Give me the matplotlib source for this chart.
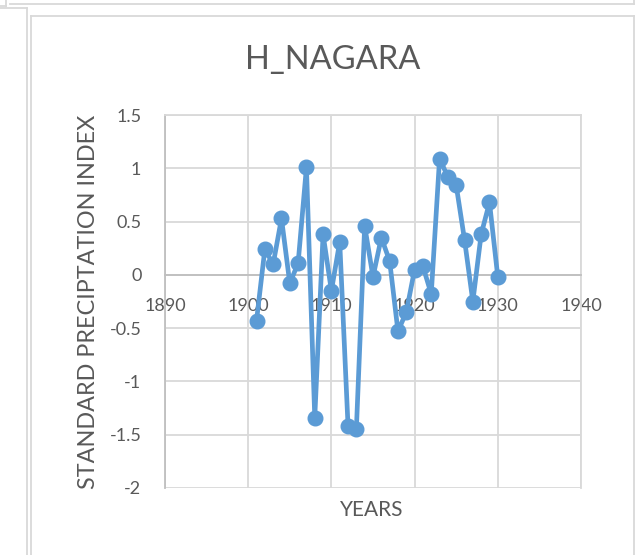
import matplotlib
matplotlib.use("Agg")
from matplotlib import pyplot as plt
from matplotlib.lines import Line2D

plt.rcParams['font.family'] = ['Lato', 'DejaVu Sans']

# values
years = list(range(1901, 1931))
spi = [-0.43, 0.24, 0.10, 0.53, -0.08, 0.11, 1.01, -1.34, 0.38, -0.15,
       0.31, -1.42, -1.45, 0.46, -0.02, 0.35, 0.13, -0.53, -0.35, 0.05,
       0.08, -0.18, 1.09, 0.92, 0.84, 0.33, -0.25, 0.38, 0.68, -0.02]

x_ticks = [1890, 1900, 1910, 1920, 1930, 1940]
y_ticks = [-2, -1.5, -1, -0.5, 0, 0.5, 1, 1.5]
y_tick_labels = ['-2', '-1.5', '-1', '-0.5', '0', '0.5', '1', '1.5']

TEXT = '#595959'
GRID = '#D9D9D9'
BLUE = '#5B9BD5'

W, H = 636, 555
fig = plt.figure(figsize=(W / 100, H / 100), dpi=100)

# frame lines from the spreadsheet screenshot (pixel coords -> figure fraction)
def hline(y, x0, x1):
    fig.add_artist(Line2D([x0 / W, x1 / W], [1 - y / H, 1 - y / H], color=GRID, lw=1.3))

def vline(x, y0, y1):
    fig.add_artist(Line2D([x / W, x / W], [1 - y0 / H, 1 - y1 / H], color=GRID, lw=1.3))

vline(6, 0, 6)
hline(6, 0, 6)
hline(4, 10, 634)
vline(634, 0, 4)
hline(8, 0, 27)
vline(27, 8, H)
hline(16, 31, 634)
vline(31, 16, H)
vline(634, 16, H)

left, right, top, bottom = 165, 581, 115, 488
ax = fig.add_axes([left / W, 1 - bottom / H, (right - left) / W, (bottom - top) / H])

ax.plot(years, spi, color=BLUE, lw=3.4, marker='o', markersize=10.5, zorder=3)

ax.set_xlim(1890, 1940)
ax.set_ylim(-2, 1.5)
ax.set_xticks(x_ticks)
ax.set_yticks(y_ticks)
ax.set_yticklabels(y_tick_labels)
ax.grid(True, color=GRID, lw=1.3)
ax.set_axisbelow(True)

for s in ['top', 'right', 'left']:
    ax.spines[s].set_color(GRID)
    ax.spines[s].set_linewidth(1.3)
ax.spines['left'].set_color('#BFBFBF')
ax.spines['bottom'].set_position(('data', 0))
ax.spines['bottom'].set_color('#BFBFBF')
ax.spines['bottom'].set_linewidth(1.3)

ax.tick_params(axis='both', length=0, labelsize=13, labelcolor=TEXT)
ax.tick_params(axis='x', pad=17)
ax.tick_params(axis='y', pad=17)

fig.text(333 / W, 1 - 60 / H, 'H_NAGARA', ha='center', va='center',
         fontsize=23.5, color=TEXT)
fig.text(89 / W, 1 - 302 / H, 'STANDARD PRECIPTATION INDEX', rotation=90,
         ha='center', va='center', fontsize=16.8, color=TEXT)
fig.text(372 / W, 1 - 510.5 / H, 'YEARS', ha='center', va='center',
         fontsize=15, color=TEXT)

fig.savefig('out.png', dpi=100)
